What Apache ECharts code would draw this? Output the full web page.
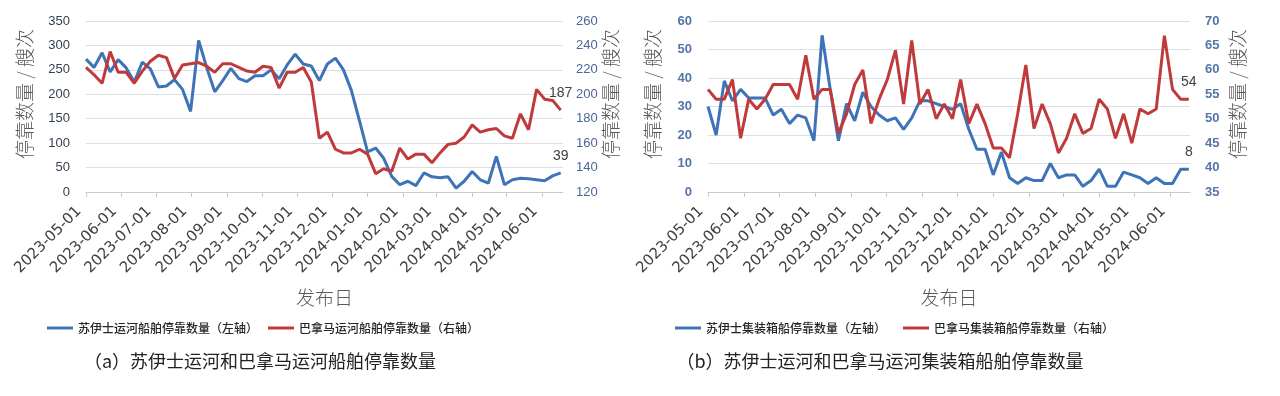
<!DOCTYPE html>
<html>
<head>
<meta charset="utf-8">
<script src="https://cdn.jsdelivr.net/npm/echarts@6/dist/echarts.min.js"></script>
<style>
html,body{margin:0;padding:0;background:#fff;}
#c{width:1280px;height:396px;}
</style>
</head>
<body>
<div id="c"></div>
<script>
// Weekly publication dates (发布日)
var dates = [
'2023-05-01','2023-05-08','2023-05-15','2023-05-22','2023-05-29',
'2023-06-05','2023-06-12','2023-06-19','2023-06-26',
'2023-07-03','2023-07-10','2023-07-17','2023-07-24','2023-07-31',
'2023-08-07','2023-08-14','2023-08-21','2023-08-28',
'2023-09-04','2023-09-11','2023-09-18','2023-09-25',
'2023-10-02','2023-10-09','2023-10-16','2023-10-23','2023-10-30',
'2023-11-06','2023-11-13','2023-11-20','2023-11-27',
'2023-12-04','2023-12-11','2023-12-18','2023-12-25',
'2024-01-01','2024-01-08','2024-01-15','2024-01-22','2024-01-29',
'2024-02-05','2024-02-12','2024-02-19','2024-02-26',
'2024-03-04','2024-03-11','2024-03-18','2024-03-25',
'2024-04-01','2024-04-08','2024-04-15','2024-04-22','2024-04-29',
'2024-05-06','2024-05-13','2024-05-20','2024-05-27',
'2024-06-03','2024-06-10','2024-06-17'
];

// (a) all ships
var suezShips = [272,255,285,246,271,254,225,266,252,215,217,230,210,165,310,255,205,228,253,232,
226,238,238,250,232,260,282,262,258,228,262,274,250,207,145,82,90,69,32,15,
22,13,39,31,29,31,8,22,42,25,18,73,15,25,28,27,25,23,33,39];
var panamaShips = [222,216,209,235,218,218,209,219,227,232,230,213,224,225,226,223,218,225,225,222,
219,218,223,222,205,218,218,222,210,164,169,155,152,152,155,151,135,139,137,156,
147,151,151,144,152,159,160,165,175,169,171,172,166,164,184,171,204,196,195,187];

// (b) container ships
var suezContainer = [30,20,39,32,36,33,33,33,27,29,24,27,26,18,55,36,18,31,25,35,
30,27,25,26,22,26,32,32,31,30,29,31,22,15,15,6,14,5,3,5,
4,4,10,5,6,6,2,4,8,2,2,7,6,5,3,5,3,3,8,8];
var panamaContainer = [56,54,54,58,46,54,52,54,57,57,57,54,63,54,56,56,47,51,57,60,
49,54,58,64,53,66,53,56,50,53,50,58,49,53,49,44,44,42,51,61,
48,53,49,43,46,51,47,48,54,52,46,51,45,52,51,52,67,56,54,54];

var leftTicks = {min:0, max:350, interval:50};
var rightTicks = {min:120, max:260, interval:20};
var leftTicksB = {min:0, max:60, interval:10};
var rightTicksB = {min:35, max:70, interval:5};

var names = {
  a1:'苏伊士运河船舶停靠数量（左轴）',
  a2:'巴拿马运河船舶停靠数量（右轴）',
  b1:'苏伊士集装箱船停靠数量（左轴）',
  b2:'巴拿马集装箱船停靠数量（右轴）'
};
var axisName = '停靠数量 / 艘次';
var xName = '发布日';
var captions = ['（a）苏伊士运河和巴拿马运河船舶停靠数量','（b）苏伊士运河和巴拿马运河集装箱船舶停靠数量'];

var BLUE = '#3e74b7', RED = '#c03a3b';
var CJK = '"Noto Sans CJK SC", sans-serif';

function pairs(vals){ return vals.map(function(v,i){ return [dates[i], v]; }); }
function lastLabel(n){
  return {show:true, position:'top', distance:10, fontSize:14, color:'#404040',
    fontFamily:'"Liberation Sans", Arial, sans-serif',
    formatter:function(p){ return p.dataIndex === n-1 ? String(p.value[1]) : ''; }};
}
function xAxisCfg(gi, maxDate){
  return {
    type:'time', gridIndex:gi, min:'2023-05-01', max:maxDate,
    splitNumber:14, minInterval:28*864e5, maxInterval:31*864e5,
    axisLine:{show:true, lineStyle:{color:'#c8c8c8', width:1}},
    axisTick:{show:true, length:5, lineStyle:{color:'#c8c8c8'}},
    splitLine:{show:false},
    axisLabel:{rotate:45, margin:10, fontSize:15, color:'#404040', padding:[0,10,0,0],
      fontFamily:'"DejaVu Sans", sans-serif', hideOverlap:false,
      formatter:function(v){ return echarts.time.format(v,'{yyyy}-{MM}-{dd}',false); }},
    name:xName, nameLocation:'middle', nameGap:96,
    nameTextStyle:{fontSize:19, color:'#595959', fontFamily:CJK, fontWeight:300}
  };
}
function yAxisCfg(gi, pos, t, color, bold, margin, split){
  return {
    type:'value', gridIndex:gi, position:pos, min:t.min, max:t.max, interval:t.interval,
    axisLine:{show:false}, axisTick:{show:false},
    splitLine:{show:split, lineStyle:{color:'#dcdfe4', width:1}},
    axisLabel:{fontSize:13, color:color, fontWeight: bold ? 'bold' : 'normal', margin:margin,
      fontFamily:'"Liberation Sans", Arial, sans-serif'}
  };
}
function lineSeries(name, xi, yi, vals, color){
  return {name:name, type:'line', xAxisIndex:xi, yAxisIndex:yi, data:pairs(vals),
    symbol:'circle', symbolSize:0, showSymbol:true, showAllSymbol:true,
    lineStyle:{width:3, color:color}, itemStyle:{color:color},
    label:lastLabel(vals.length), emphasis:{disabled:true}};
}

var option = {
  backgroundColor:'#ffffff',
  animation:false,
  grid:[
    {left:86, top:21, width:477, height:171},
    {left:708, top:21, width:482, height:171}
  ],
  xAxis:[ xAxisCfg(0,'2024-06-19'), xAxisCfg(1,'2024-06-18') ],
  yAxis:[
    yAxisCfg(0,'left', leftTicks, '#333f50', false, 16, true),
    yAxisCfg(0,'right', rightTicks, '#4a6794', false, 13, false),
    yAxisCfg(1,'left', leftTicksB, '#5576a6', true, 16, true),
    yAxisCfg(1,'right', rightTicksB, '#5576a6', true, 15, false)
  ],
  legend:[
    {data:[names.a1, names.a2], left:47, top:322, padding:0, itemWidth:26, itemHeight:3, itemGap:10,
      icon:'rect', textStyle:{fontSize:12, color:'#262626', fontFamily:CJK, fontWeight:500}},
    {data:[names.b1, names.b2], left:675, top:322, padding:0, itemWidth:26, itemHeight:3, itemGap:17,
      icon:'rect', textStyle:{fontSize:12, color:'#262626', fontFamily:CJK, fontWeight:500}}
  ],
  graphic:[
    {type:'text', x:25, y:94, rotation:Math.PI/2, style:{text:axisName, font:'300 19px '+CJK, fill:'#595959', align:'center', verticalAlign:'middle'}},
    {type:'text', x:611, y:94, rotation:Math.PI/2, style:{text:axisName, font:'300 19px '+CJK, fill:'#595959', align:'center', verticalAlign:'middle'}},
    {type:'text', x:653, y:94, rotation:Math.PI/2, style:{text:axisName, font:'300 19px '+CJK, fill:'#595959', align:'center', verticalAlign:'middle'}},
    {type:'text', x:1238, y:94, rotation:Math.PI/2, style:{text:axisName, font:'300 19px '+CJK, fill:'#595959', align:'center', verticalAlign:'middle'}},
    {type:'text', x:260, y:361, style:{text:captions[0], font:'18px '+CJK, fill:'#222222', align:'center', verticalAlign:'middle'}},
    {type:'text', x:880, y:361, style:{text:captions[1], font:'18px '+CJK, fill:'#222222', align:'center', verticalAlign:'middle'}}
  ],
  series:[
    lineSeries(names.a1, 0, 0, suezShips, BLUE),
    lineSeries(names.a2, 0, 1, panamaShips, RED),
    lineSeries(names.b1, 1, 2, suezContainer, BLUE),
    lineSeries(names.b2, 1, 3, panamaContainer, RED)
  ]
};
var chart = echarts.init(document.getElementById('c'), null, {renderer:'canvas'});
chart.setOption(option);
</script>
</body>
</html>
